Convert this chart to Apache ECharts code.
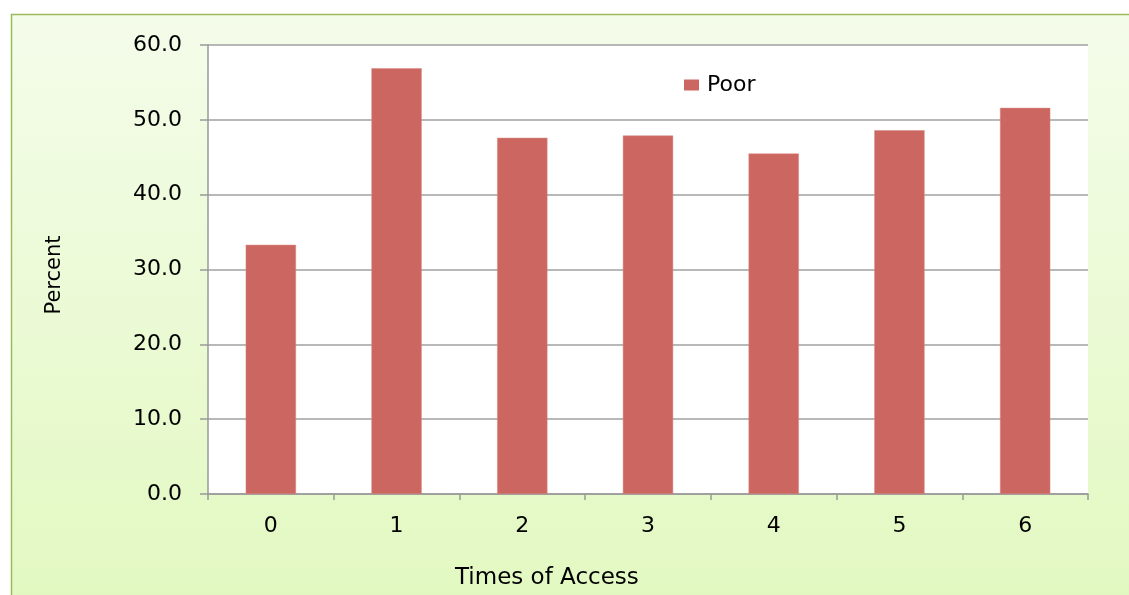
<!DOCTYPE html>
<html>
<head>
<meta charset="utf-8">
<script src="https://cdn.jsdelivr.net/npm/echarts@6/dist/echarts.min.js"></script>
<style>
html,body{margin:0;padding:0;background:#fff;}
#chart{width:1129px;height:595px;}
</style>
</head>
<body>
<div id="chart"></div>
<script>
const categories = ['0', '1', '2', '3', '4', '5', '6'];
const poorValues = [33.3, 56.9, 47.6, 47.9, 45.5, 48.6, 51.6];
const seriesName = 'Poor';
const yAxisTitle = 'Percent';
const xAxisTitle = 'Times of Access';

const chart = echarts.init(document.getElementById('chart'));
const FONT = '"DejaVu Sans", sans-serif';
chart.setOption({
  animation: false,
  backgroundColor: '#ffffff',
  graphic: [
    {
      type: 'rect', z: -10, silent: true,
      shape: { x: 11.5, y: 14.5, width: 1200, height: 700 },
      style: {
        fill: new echarts.graphic.LinearGradient(0, 0, 0, 1, [
          { offset: 0, color: '#f4fcea' },
          { offset: 1, color: '#dff8b9' }
        ]),
        stroke: '#9bbb59', lineWidth: 1.5
      }
    },
    {
      type: 'text', left: 455, top: 567, silent: true,
      style: { text: xAxisTitle, font: '23px "DejaVu Sans", sans-serif', fill: '#000' }
    },
    {
      type: 'text', x: 55, y: 275, rotation: Math.PI / 2, silent: true,
      style: {
        text: yAxisTitle, font: '21px "DejaVu Sans", sans-serif', fill: '#000',
        align: 'center', verticalAlign: 'middle'
      }
    }
  ],
  legend: {
    left: 684, top: 74, padding: 0,
    icon: 'rect', itemWidth: 15, itemHeight: 11, itemGap: 6,
    itemStyle: { borderWidth: 0 },
    textStyle: { fontFamily: FONT, fontSize: 22, color: '#000', padding: [0, 0, 0, 3] },
    data: [seriesName]
  },
  grid: {
    left: 208, right: 41, top: 45, bottom: 101,
    show: true, backgroundColor: '#ffffff', borderWidth: 0
  },
  xAxis: {
    type: 'category',
    data: categories,
    axisLine: { lineStyle: { color: '#999999', width: 1.5 } },
    axisTick: { show: true, length: 6, lineStyle: { color: '#999999', width: 1.5 } },
    axisLabel: { fontFamily: FONT, fontSize: 22, color: '#000', margin: 21 }
  },
  yAxis: {
    type: 'value',
    min: 0, max: 60, interval: 10,
    axisLine: { show: true, lineStyle: { color: '#999999', width: 1.5 } },
    axisTick: { show: true, length: 8, lineStyle: { color: '#999999', width: 1.5 } },
    splitLine: { show: true, lineStyle: { color: '#a0a0a0', width: 1.5 } },
    axisLabel: {
      fontFamily: FONT, fontSize: 22, color: '#000', margin: 26,
      formatter: v => v.toFixed(1)
    }
  },
  series: [{
    name: seriesName,
    type: 'bar',
    data: poorValues,
    barWidth: '40%',
    itemStyle: { color: '#cc6660', borderColor: '#d98a85', borderWidth: 0.5 }
  }]
});
</script>
</body>
</html>
